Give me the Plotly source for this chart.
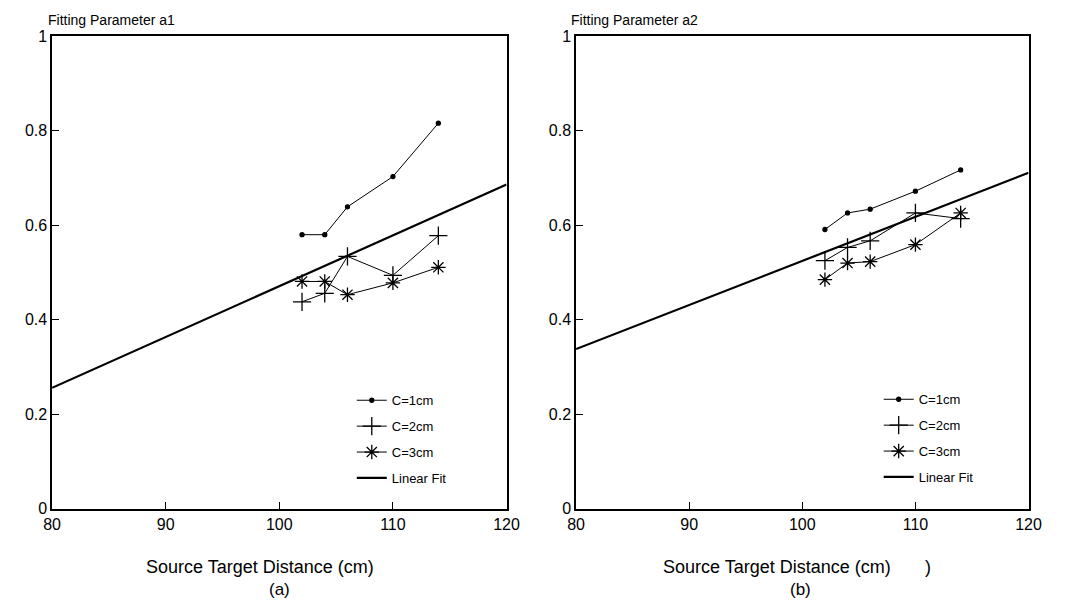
import plotly.graph_objects as go

W, H = 1067, 616

# Source-target distances (cm) at which the fitting parameters were measured
distance = [102, 104, 106, 110, 114]

# Fitting parameter a1 for three collimator sizes
a1_c1 = [0.580, 0.580, 0.639, 0.703, 0.816]
a1_c2 = [0.438, 0.456, 0.534, 0.494, 0.578]
a1_c3 = [0.481, 0.481, 0.453, 0.478, 0.511]

# Fitting parameter a2 for three collimator sizes
a2_c1 = [0.591, 0.626, 0.634, 0.672, 0.717]
a2_c2 = [0.525, 0.553, 0.567, 0.626, 0.614]
a2_c3 = [0.485, 0.520, 0.523, 0.559, 0.626]

# Linear fits over the full distance range
fit_x = [80, 120]
a1_fit = [0.256, 0.686]
a2_fit = [0.338, 0.711]

x_ticks = [80, 90, 100, 110, 120]
y_ticks = [0, 0.2, 0.4, 0.6, 0.8, 1]
y_tick_text = ["0", "0.2", "0.4", "0.6", "0.8", "1"]

FONT = "Liberation Sans, Arial, sans-serif"
INK = "black"


def px_x(p):
    return p / W


def px_y(p):
    return 1 - p / H


fig = go.Figure()

series = [
    ("C=1cm", "circle", 4, 0),
    ("C=2cm", "cross-thin-open", 13, 1),
    ("C=3cm", "asterisk-open", 12, 2),
]

panels = [
    ("x", "y", "legend", (a1_c1, a1_c2, a1_c3), a1_fit),
    ("x2", "y2", "legend2", (a2_c1, a2_c2, a2_c3), a2_fit),
]

for xa, ya, leg, data, fit in panels:
    for (name, sym, size, i) in series:
        fig.add_trace(go.Scatter(
            x=distance, y=data[i], name=name, xaxis=xa, yaxis=ya,
            legend=leg, legendgroup=f"{leg}-{i}",
            mode="lines+markers",
            line=dict(color=INK, width=1),
            marker=dict(symbol=sym, size=size, color=INK,
                        line=dict(color=INK, width=1.3)),
        ))
    fig.add_trace(go.Scatter(
        x=fit_x, y=fit, name="Linear Fit", xaxis=xa, yaxis=ya,
        legend=leg, legendgroup=f"{leg}-fit",
        mode="lines", line=dict(color=INK, width=2.2),
    ))

axis_common = dict(
    showline=True, linecolor=INK, linewidth=1.5, mirror=True,
    showgrid=False, zeroline=False,
    ticks="inside", ticklen=7, tickwidth=1.2, tickcolor=INK,
    tickfont=dict(family=FONT, size=16, color=INK),
)

y_dom = [px_y(515), px_y(29)]

legend_common = dict(
    xanchor="left", yanchor="top", bgcolor="rgba(0,0,0,0)",
    tracegroupgap=6, font=dict(family=FONT, size=13, color=INK),
)

fig.update_layout(
    width=W, height=H,
    margin=dict(l=0, r=0, t=0, b=0),
    paper_bgcolor="white", plot_bgcolor="white",
    showlegend=True,
    xaxis=dict(domain=[px_x(44), px_x(508)], range=[80, 120],
               tickvals=x_ticks, anchor="y", **axis_common),
    yaxis=dict(domain=y_dom, range=[0, 1], tickvals=y_ticks,
               ticktext=y_tick_text, anchor="x", **axis_common),
    xaxis2=dict(domain=[px_x(579), px_x(1041)], range=[80, 120],
                tickvals=x_ticks, anchor="y2", **axis_common),
    yaxis2=dict(domain=y_dom, range=[0, 1], tickvals=y_ticks,
                ticktext=y_tick_text, anchor="x2", **axis_common),
    legend=dict(x=px_x(350), y=px_y(388), **legend_common),
    legend2=dict(x=px_x(888), y=px_y(387), **legend_common),
)

texts = [
    ("Fitting Parameter a1", 38, 12, 14, "left"),
    ("Fitting Parameter a2", 572, 12, 14, "left"),
    ("Source Target Distance (cm)", 138, 575, 18, "left"),
    ("(a)", 276, 598, 17, "center"),
    ("Source Target Distance (cm)", 666, 575, 18, "left"),
    (")", 938, 575, 18, "center"),
    ("(b)", 808, 598, 17, "center"),
]
for t, x, y, s, anc in texts:
    fig.add_annotation(
        text=t, x=px_x(x), y=px_y(y), xref="paper", yref="paper",
        xanchor=anc, yanchor="middle", showarrow=False,
        font=dict(family=FONT, size=s, color=INK),
    )

fig.write_html("out.html")
